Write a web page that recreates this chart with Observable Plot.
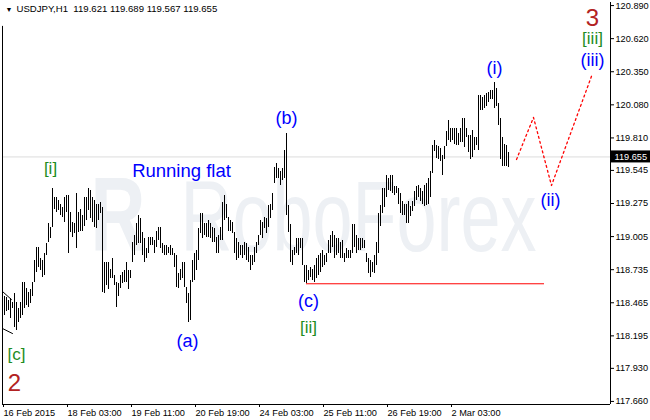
<!DOCTYPE html>
<html><head><meta charset="utf-8">
<script src="https://cdn.jsdelivr.net/npm/d3@7"></script>
<script src="https://cdn.jsdelivr.net/npm/@observablehq/plot@0.6"></script>
<style>html,body{margin:0;padding:0;background:#fff;} #chart{width:650px;height:420px;}</style>
</head><body><div id="chart"></div>
<script>
// ---- data (USDJPY H1, bar highs and lows) ----
const highs = [
118.44,118.52,118.51,118.48,118.50,118.47,118.54,118.47,118.42,118.47,
118.63,118.63,118.58,118.55,118.57,118.63,118.81,118.92,118.92,118.83,
118.81,118.87,118.95,119.11,119.08,119.40,119.32,119.32,119.30,119.27,
119.24,119.32,119.34,119.34,119.20,119.12,119.11,119.36,119.20,119.23,
119.18,119.32,119.32,119.40,119.38,119.32,119.30,119.27,119.27,119.28,
119.24,118.79,118.79,118.79,118.74,118.83,118.69,118.63,118.62,118.69,
118.71,118.73,118.79,118.73,118.73,118.96,119.01,119.11,119.18,119.15,
119.04,118.99,118.91,119.00,119.00,119.00,118.97,119.05,119.08,119.08,
118.95,118.93,118.93,118.92,118.93,118.91,118.87,118.85,118.70,118.74,
118.79,118.79,118.59,118.54,118.65,118.81,118.87,118.89,119.07,119.19,
119.19,119.11,119.11,119.14,119.11,119.08,119.07,119.00,119.01,119.08,
119.28,119.34,119.27,119.16,119.14,119.12,119.04,118.99,118.96,118.93,
118.93,118.96,118.95,118.92,118.85,118.85,118.92,118.96,119.01,119.14,
119.12,119.16,119.15,119.26,119.27,119.36,119.57,119.60,119.56,119.54,
119.56,119.71,119.85,119.26,119.10,118.89,118.92,118.99,118.99,118.99,
118.99,118.77,118.77,118.73,118.75,118.74,118.77,118.83,118.85,118.87,
118.89,118.85,118.87,118.97,119.01,119.05,119.01,118.99,118.99,118.96,
118.97,118.87,118.91,118.89,118.89,119.10,119.10,119.01,118.99,118.99,
118.99,118.97,118.87,118.83,118.81,118.79,118.85,118.96,119.19,119.26,
119.40,119.40,119.50,119.48,119.50,119.50,119.41,119.41,119.40,119.36,
119.29,119.27,119.27,119.29,119.25,119.29,119.37,119.41,119.42,119.40,
119.37,119.42,119.44,119.48,119.54,119.75,119.79,119.75,119.74,119.72,
119.67,119.74,119.86,119.95,119.89,119.89,119.89,119.89,119.85,119.89,
119.97,119.97,119.89,119.83,119.83,119.87,119.81,119.81,120.16,120.16,
120.14,120.16,120.17,120.18,120.20,120.20,120.26,120.21,120.09,119.97,
119.81,119.76,119.75,119.689
];
const lows = [
118.28,118.36,118.39,118.40,118.34,118.42,118.26,118.24,118.30,118.34,
118.36,118.42,118.44,118.43,118.46,118.52,118.63,118.71,118.75,118.73,
118.67,118.69,118.85,118.96,118.99,119.08,119.23,119.20,119.22,119.18,
119.16,119.12,119.20,118.87,119.04,119.00,119.03,118.91,119.04,119.05,
119.05,119.09,119.14,119.22,119.15,119.12,119.08,119.07,119.14,119.19,
118.55,118.54,118.61,118.57,118.66,118.66,118.61,118.43,118.52,118.58,
118.62,118.63,118.63,118.57,118.66,118.79,118.85,118.93,118.95,118.95,
118.85,118.79,118.83,118.87,118.93,118.93,118.87,118.92,118.97,118.91,
118.87,118.85,118.85,118.87,118.85,118.85,118.75,118.59,118.58,118.65,
118.66,118.59,118.46,118.30,118.32,118.63,118.65,118.73,118.81,119.03,
118.99,119.01,119.00,119.00,118.99,118.96,118.96,118.87,118.87,118.97,
118.97,119.14,119.15,119.05,119.05,119.03,118.87,118.81,118.83,118.85,
118.83,118.85,118.81,118.79,118.73,118.77,118.79,118.87,118.93,119.01,
118.99,119.07,119.03,119.08,119.15,119.22,119.44,119.48,119.48,119.42,
119.46,119.48,119.18,119.04,118.79,118.77,118.85,118.87,118.85,118.91,
118.77,118.63,118.62,118.65,118.67,118.65,118.63,118.66,118.69,118.71,
118.75,118.77,118.79,118.87,118.87,118.92,118.83,118.85,118.87,118.83,
118.83,118.79,118.83,118.83,118.83,118.87,118.92,118.87,118.89,118.89,
118.91,118.91,118.79,118.70,118.67,118.71,118.70,118.77,118.87,119.09,
119.19,119.24,119.32,119.38,119.37,119.36,119.34,119.36,119.27,119.19,
119.18,119.18,119.11,119.11,119.17,119.21,119.25,119.30,119.32,119.29,
119.27,119.25,119.26,119.27,119.32,119.52,119.70,119.64,119.63,119.62,
119.50,119.63,119.74,119.79,119.77,119.79,119.76,119.75,119.75,119.77,
119.77,119.73,119.81,119.69,119.63,119.65,119.71,119.75,119.71,120.03,
120.03,120.05,120.07,120.10,120.12,120.12,120.05,120.07,119.91,119.63,
119.58,119.58,119.58,119.567
];
const symbol = "USDJPY,H1";
const lastOHLC = [119.621, 119.689, 119.567, 119.655];
const lastPrice = 119.655;
const yTicks = [120.890,120.620,120.350,120.080,119.810,119.545,119.275,119.005,118.735,118.465,118.195,117.930,117.660];
const xTickIdx = [0,32,64,96,128,160,192,224];
const xTickLabels = ["16 Feb 2015","18 Feb 03:00","19 Feb 11:00","20 Feb 19:00","24 Feb 03:00","25 Feb 11:00","26 Feb 19:00","2 Mar 03:00"];
// wave labels
const labelText  = ["3","[iii]","(iii)","(i)","(b)","[i]","Running flat","(ii)","(c)","[ii]","(a)","[c]","2"];
const labelIdx   = [295,295,295,246,142,24,89.5,274,153,153,92.5,7,6];
const labelPrice = [120.79,120.62,120.44,120.38,119.97,119.56,119.54,119.30,118.48,118.26,118.15,118.04,117.81];
const labelKind  = ["major","minor","sub","sub","sub","minor","note","sub","sub","minor","sub","minor","major"];
// projected path of waves (ii)-(iii)
const projIdx   = [257,265.5,274.5,295];
const projPrice = [119.634,119.977,119.422,120.336];
// horizontal level under wave (c)
const levelIdx = [152,271];
const levelPrice = 118.62;
// channel lines from the previous waves, entering at left edge
const chanA = {idx:[0,4.5], price:[118.557,118.491]};
const chanB = {idx:[0,5], price:[118.255,118.214]};
const watermark = "RoboForex";
const watermarkLogo = "R";

// ---- build ----
const bars = highs.map((h,i)=>({i, h, l: lows[i]}));
const xMax = 304;
const yDom = [117.635, 120.915];
const kindColor = {major:"#b22222", minor:"#1e8c1e", sub:"#0000ff", note:"#0000ff"};
const kindSize  = {major:24, minor:17, sub:18, note:18.5};
const labels = labelText.map((t,k)=>({t, i:labelIdx[k], p:labelPrice[k], kind:labelKind[k]}));
const proj = projIdx.map((i,k)=>({i, p:projPrice[k]}));
const font = "Liberation Sans, Arial, sans-serif";

const chart = Plot.plot({
  width: 650, height: 420,
  marginLeft: 2, marginRight: 40, marginTop: 2, marginBottom: 16,
  style: {fontFamily: font, fontSize: "9.2px", background: "white", color: "black"},
  x: {domain: [0, xMax], axis: null},
  y: {domain: yDom, axis: null},
  marks: [
    // watermark
    Plot.text([watermark], {x: 89, y: 118.89, text: d=>d, textAnchor: "start", lineAnchor: "bottom", fontSize: 72, fill: "#edf0f4", fontFamily: font, className: "wm"}),
    Plot.text([watermarkLogo], {x: 44, y: 118.89, text: d=>d, textAnchor: "start", lineAnchor: "bottom", fontSize: 76, fontWeight: "bold", fill: "#edf0f4", fontFamily: font, className: "wm"}),
    // current price line
    Plot.ruleY([lastPrice], {stroke: "#dcdcdc", strokeWidth: 1}),
    // bars
    Plot.ruleX(bars, {x: "i", y1: "l", y2: "h", stroke: "black", strokeWidth: 1, shapeRendering: "crispEdges"}),
    // support level
    Plot.ruleY([levelPrice], {x1: levelIdx[0], x2: levelIdx[1], stroke: "#ff0000", strokeWidth: 1}),
    // channel lines
    Plot.line(chanA.idx.map((i,k)=>({i, p: chanA.price[k]})), {x:"i", y:"p", stroke:"black", strokeWidth:1}),
    Plot.line(chanB.idx.map((i,k)=>({i, p: chanB.price[k]})), {x:"i", y:"p", stroke:"black", strokeWidth:1}),
    // projection
    Plot.line(proj, {x: "i", y: "p", stroke: "#ff0000", strokeWidth: 1.3, strokeDasharray: "2,3"}),
    // wave labels
    Plot.text(labels, {x: "i", y: "p", text: "t", fill: d=>kindColor[d.kind], fontSize: d=>kindSize[d.kind], textAnchor: "middle", lineAnchor: "middle", fontFamily: font}),
    // frame (left, right, bottom)
    Plot.ruleY([yDom[0]], {stroke: "black"}),
    Plot.ruleX([0], {y1: 120.72, y2: yDom[0], stroke: "black"}),
    Plot.ruleX([xMax], {y1: yDom[0], y2: yDom[1], stroke: "black"}),
    // axes
    Plot.axisY(yTicks, {anchor: "right", tickSize: 3, tickPadding: 2, tickFormat: d=>d.toFixed(3), label: null, fontSize: 9.2}),
    Plot.axisX(xTickIdx, {anchor: "bottom", tickSize: 3, tickPadding: 2, tickFormat: d=>xTickLabels[xTickIdx.indexOf(d)], textAnchor: "start", dx: 1, label: null, fontSize: 9.2}),
    // current price tag
    Plot.rect([lastPrice], {x1: xMax + 0.5, x2: xMax + 21, y1: d=>d-0.049, y2: d=>d+0.049, fill: "black"}),
    Plot.text([lastPrice], {x: xMax + 2, y: d=>d, text: d=>d.toFixed(3), fill: "white", textAnchor: "start", lineAnchor: "middle", fontSize: 9.2}),
    // title
    Plot.text(["\u25BC"], {frameAnchor: "top-left", dx: 3, dy: 5, text: d=>d, fontSize: 7, lineAnchor: "top", textAnchor: "start"}),
    Plot.text([symbol + "  " + lastOHLC.map(v=>v.toFixed(3)).join(" ")], {frameAnchor: "top-left", dx: 14, dy: 3, text: d=>d, fontSize: 9.6, lineAnchor: "top", textAnchor: "start"})
  ]
});
document.getElementById("chart").appendChild(chart);
// stretch the watermark vertically (taller, condensed letters as in the logo)
d3.select(chart).selectAll("g.wm text, .wm text").each(function(){
  const t = this.getAttribute("transform") || "";
  this.setAttribute("transform", t + " scale(1,1.4)");
});
</script>
</body></html>
